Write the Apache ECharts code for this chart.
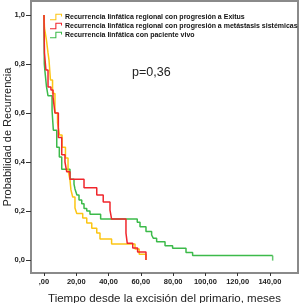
<!DOCTYPE html>
<html>
<head>
<meta charset="utf-8">
<script src="https://cdn.jsdelivr.net/npm/echarts@6/dist/echarts.min.js"></script>
<style>
  html, body { margin: 0; padding: 0; background: #fff; }
  #chart { width: 300px; height: 303px; }
</style>
</head>
<body>
<div id="chart"></div>
<script>
// nombres de las curvas
const names = [
  'Recurrencia linfática regional con progresión a Exitus',
  'Recurrencia linfática regional con progresión a metástasis sistémicas',
  'Recurrencia linfática con paciente vivo'
]

// curvas Kaplan-Meier [tiempo, probabilidad]
const exitus = [
  [0, 1.0], [0.3, 0.947], [1.5, 0.898], [2.5, 0.845], [3.1, 0.816], [4, 0.735],
  [5.3, 0.68], [6.8, 0.60], [8.4, 0.56], [9.6, 0.51], [11.2, 0.46], [13.3, 0.416],
  [14.9, 0.367], [16.1, 0.327], [16.7, 0.286], [17.8, 0.257], [19.2, 0.212],
  [20.3, 0.19], [24, 0.171], [26.5, 0.151], [29.6, 0.13], [32.7, 0.11],
  [34.7, 0.086], [41.9, 0.065], [56.4, 0.045], [59, 0.024], [63.2, 0.0]
]
const metastasis = [
  [0, 1.0], [0.1, 0.93], [0.3, 0.845], [1.2, 0.775], [2.5, 0.706], [4.3, 0.694],
  [5.6, 0.665], [6.8, 0.60], [8.9, 0.50], [11, 0.43], [13, 0.40], [14.1, 0.36],
  [16.1, 0.33], [24.8, 0.295], [32.7, 0.265], [36.7, 0.237], [40.9, 0.204],
  [41.9, 0.167], [50.8, 0.11], [51.6, 0.068], [55, 0.049], [58, 0.033], [63.2, 0.0]
]
const vivo = [
  [0, 1.0], [0.2, 0.80], [0.6, 0.77], [1.5, 0.71], [2.5, 0.67], [5, 0.61],
  [5.8, 0.53], [7.9, 0.46], [9.5, 0.42], [11, 0.37], [16.1, 0.33], [18.6, 0.31],
  [19.2, 0.29], [20.4, 0.265], [21.7, 0.245], [23.4, 0.23], [24.8, 0.21],
  [26.5, 0.20], [28.5, 0.187], [35.1, 0.167], [57.8, 0.154], [59.5, 0.136],
  [63.2, 0.116], [66.7, 0.102], [67.7, 0.089], [69.8, 0.075], [75, 0.058],
  [79.7, 0.048], [88, 0.031], [92.1, 0.018], [141.7, 0.018]
]
// censurado al final de la curva verde
const censored = [[141.7, 0.018]]

const xTicks = [0, 20, 40, 60, 80, 100, 120, 140]
const yTicks = [0, 0.2, 0.4, 0.6, 0.8, 1.0]
const pValue = 'p=0,36'

const colors = ['#fcc514', '#f0262c', '#3cba4a']
// icono de la leyenda (escalon)
const stepIcon = 'path://M0,8 L8,8 L8,0 L18,0 L18,4 L16.5,4 L16.5,1.6 L9.6,1.6 L9.6,9.6 L0,9.6 Z'

let chart = echarts.init(document.getElementById('chart'))

const option = {
  animation: false,
  backgroundColor: '#fff',
  title: {
    text: pValue,
    left: 132,
    top: 66,
    padding: 0,
    textStyle: { fontSize: 12.5, fontWeight: 'normal', color: '#222', fontFamily: 'Liberation Sans' }
  },
  legend: {
    orient: 'vertical',
    left: 45,
    top: 8,
    itemWidth: 12,
    itemHeight: 7,
    itemGap: 1,
    icon: stepIcon,
    data: names,
    textStyle: { fontSize: 7, fontWeight: 'bold', color: '#111', fontFamily: 'Liberation Sans', lineHeight: 8, padding: [0, 0, 0, -2] }
  },
  grid: {
    left: 31, right: 2, top: 1, bottom: 30,
    outerBoundsMode: 'none',
    containLabel: false,
    show: true,
    borderColor: '#8a8a8a',
    borderWidth: 2
  },
  xAxis: {
    type: 'value',
    min: -8.05,
    max: 157.4,
    name: 'Tiempo desde la excisión del primario, meses',
    nameLocation: 'middle',
    nameGap: 20,
    nameTextStyle: { fontSize: 11.5, color: '#222', fontFamily: 'Liberation Sans' },
    splitLine: { show: false },
    axisLine: { show: true, onZero: false, lineStyle: { color: '#8a8a8a', width: 2 } },
    axisTick: { show: true, customValues: xTicks, length: 3, lineStyle: { color: '#333' } },
    axisLabel: {
      customValues: xTicks,
      fontSize: 7.5, fontWeight: 'bold', color: '#222', margin: 5,
      fontFamily: 'Liberation Sans',
      formatter: v => v === 0 ? ',00' : v.toFixed(2).replace('.', ',')
    }
  },
  yAxis: {
    type: 'value',
    min: -0.053,
    max: 1.057,
    name: 'Probabilidad de Recurrencia',
    nameLocation: 'middle',
    nameGap: 18,
    nameMoveOverlap: false,
    nameTextStyle: { fontSize: 11, color: '#222', fontFamily: 'Liberation Sans' },
    splitLine: { show: false },
    axisLine: { show: true, onZero: false, lineStyle: { color: '#8a8a8a', width: 2 } },
    axisTick: { show: true, customValues: yTicks, length: 5, lineStyle: { color: '#333' } },
    axisLabel: {
      customValues: yTicks,
      fontSize: 7.5, fontWeight: 'bold', color: '#222', margin: 6,
      fontFamily: 'Liberation Sans',
      formatter: v => v.toFixed(1).replace('.', ',')
    }
  },
  series: [
    { name: names[0], type: 'line', step: 'end', data: exitus, showSymbol: false, color: colors[0], lineStyle: { width: 1.5 } },
    { name: names[1], type: 'line', step: 'end', data: metastasis, showSymbol: false, color: colors[1], lineStyle: { width: 1.5 } },
    { name: names[2], type: 'line', step: 'end', data: vivo, showSymbol: false, color: colors[2], lineStyle: { width: 1.5 }, z: 1 },
    {
      type: 'scatter', data: censored, symbol: 'rect', symbolSize: [1.5, 5], symbolOffset: [0, 2.5],
      itemStyle: { color: colors[2] }, silent: true
    }
  ]
}

chart.setOption(option)
</script>
</body>
</html>
